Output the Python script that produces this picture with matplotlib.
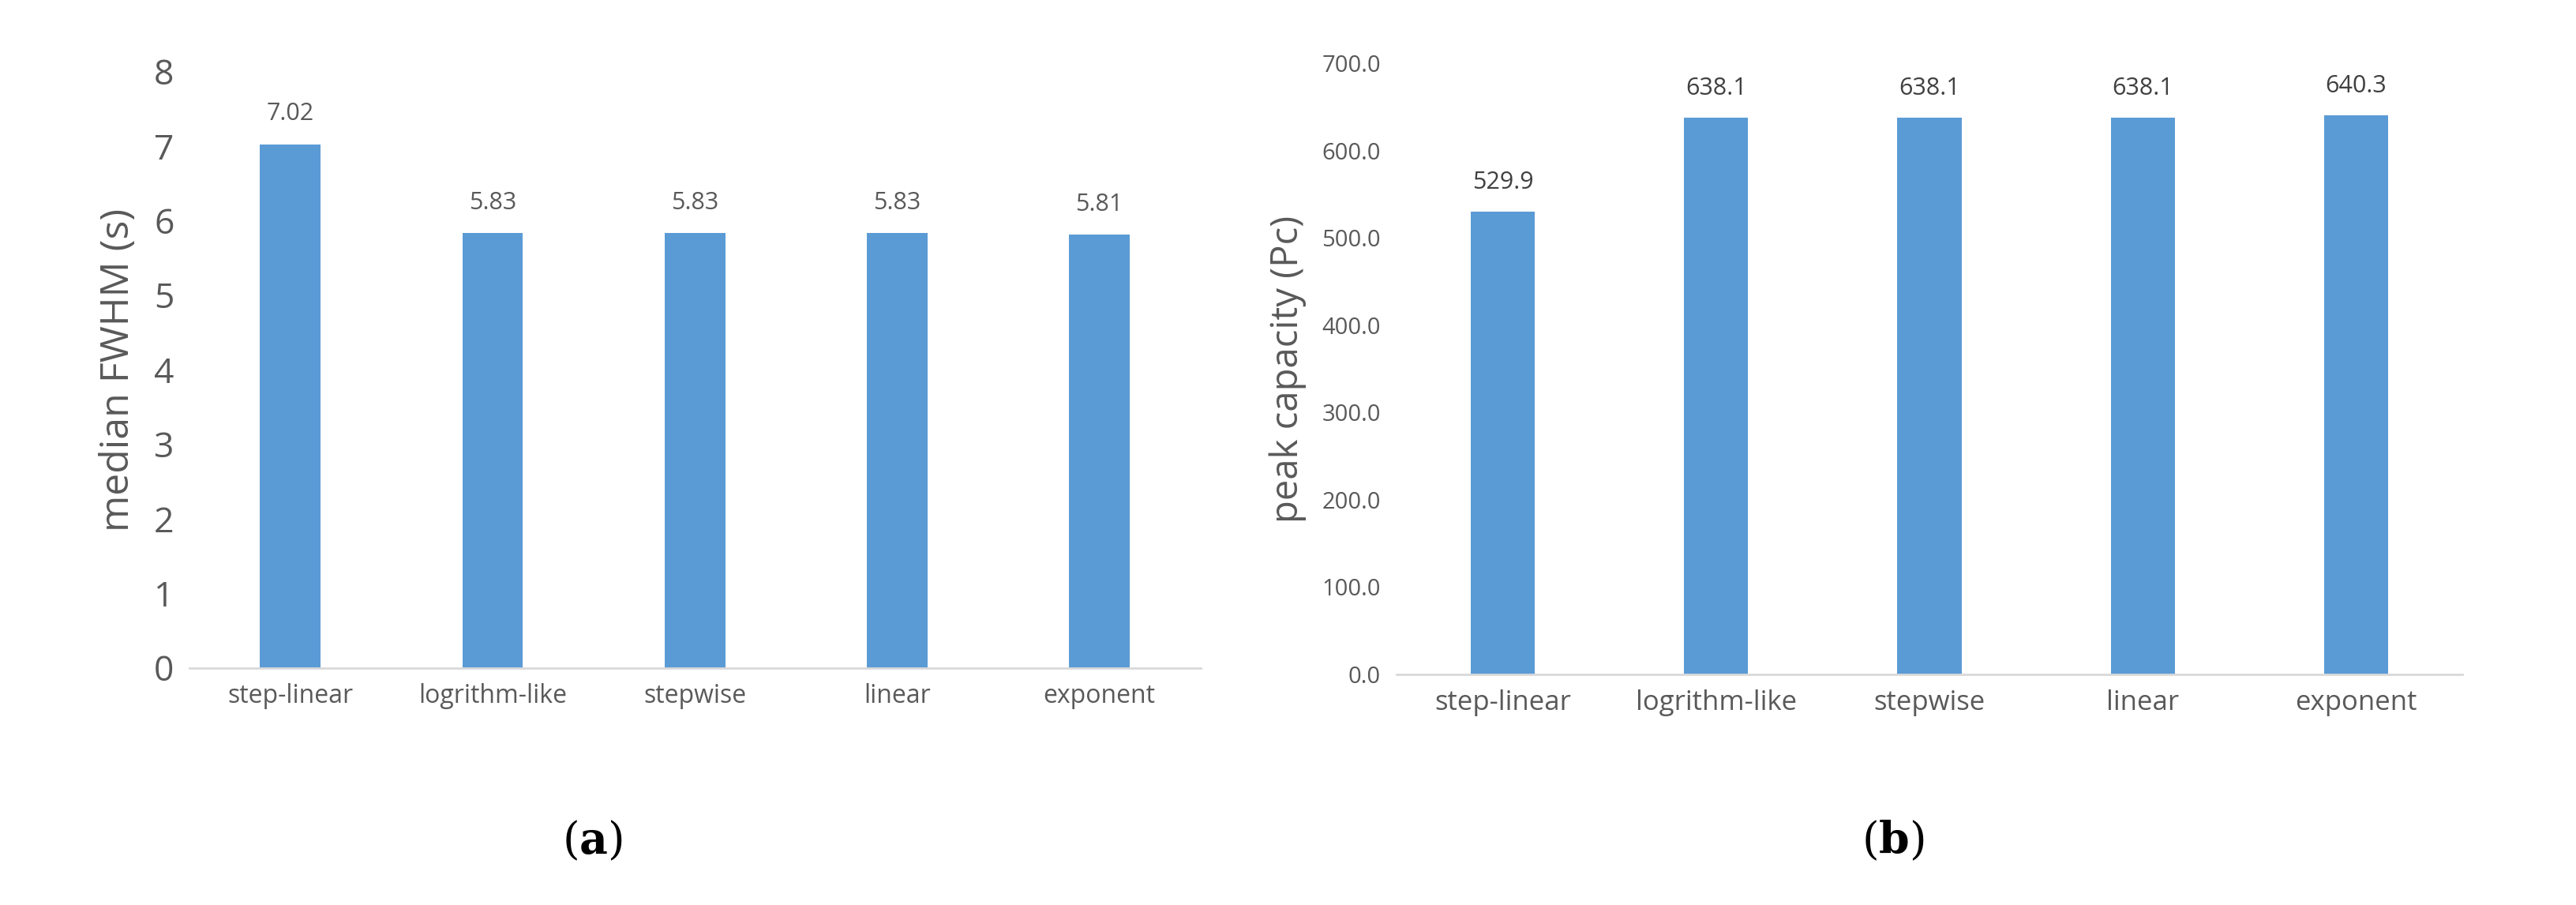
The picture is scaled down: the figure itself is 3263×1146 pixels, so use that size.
import matplotlib
matplotlib.use("Agg")
import matplotlib.pyplot as plt

categories = ["step-linear", "logrithm-like", "stepwise", "linear", "exponent"]
fwhm = [7.02, 5.83, 5.83, 5.83, 5.81]
fwhm_labels = ["7.02", "5.83", "5.83", "5.83", "5.81"]
pc = [529.9, 638.1, 638.1, 638.1, 640.3]
pc_labels = ["529.9", "638.1", "638.1", "638.1", "640.3"]

plt.rcParams['font.family'] = ['Open Sans', 'DejaVu Sans']
color = "#5B9BD5"
gray = "#595959"

fig = plt.figure(figsize=(32.63, 11.46), dpi=100)
ax1 = fig.add_axes([0.0735, 0.262, 0.3925, 0.659])
ax2 = fig.add_axes([0.542, 0.255, 0.414, 0.675])

def style(ax, ytick_size, ylabel, ylabel_size, fmt):
    for s in ["top", "right", "left"]:
        ax.spines[s].set_visible(False)
    ax.spines["bottom"].set_color("#D9D9D9")
    ax.spines["bottom"].set_linewidth(2)
    ax.tick_params(axis="both", length=0, colors=gray)
    ax.tick_params(axis="y", labelsize=ytick_size, pad=14)
    ax.tick_params(axis="x", labelsize=23, pad=14)
    ax.set_ylabel(ylabel, fontsize=ylabel_size, color=gray, labelpad=14)
    ax.yaxis.set_major_formatter(matplotlib.ticker.FormatStrFormatter(fmt))

x = range(len(categories))
ax1.bar(x, fwhm, width=0.3, color=color)
ax1.set_ylim(0, 8)
ax1.set_yticks(range(0, 9))
ax1.set_xticks(list(x))
ax1.set_xticklabels(categories)
ax1.set_xlim(-0.5, 4.5)
style(ax1, 32, "median FWHM (s)", 36, "%d")
for i, (v, l) in enumerate(zip(fwhm, fwhm_labels)):
    ax1.text(i, v + 0.25, l, ha="center", va="bottom", fontsize=22, color=gray)

ax2.bar(x, pc, width=0.3, color=color)
ax2.set_ylim(0, 700)
ax2.set_yticks(range(0, 701, 100))
ax2.set_xticks(list(x))
ax2.set_xticklabels(categories, fontsize=23)
ax2.set_xlim(-0.5, 4.5)
style(ax2, 21, "peak capacity (Pc)", 34, "%.1f")
ax2.tick_params(axis="x", labelsize=25)
for i, (v, l) in enumerate(zip(pc, pc_labels)):
    ax2.text(i, v + 20, l, ha="center", va="bottom", fontsize=22, color="#404040")

fig.text(0.23, 0.07, r"($\mathbf{a}$)", ha="center", va="center", fontsize=40,
         family="DejaVu Serif", math_fontfamily="dejavuserif")
fig.text(0.735, 0.07, r"($\mathbf{b}$)", ha="center", va="center", fontsize=40,
         family="DejaVu Serif", math_fontfamily="dejavuserif")

fig.savefig("out.png", dpi=100)
